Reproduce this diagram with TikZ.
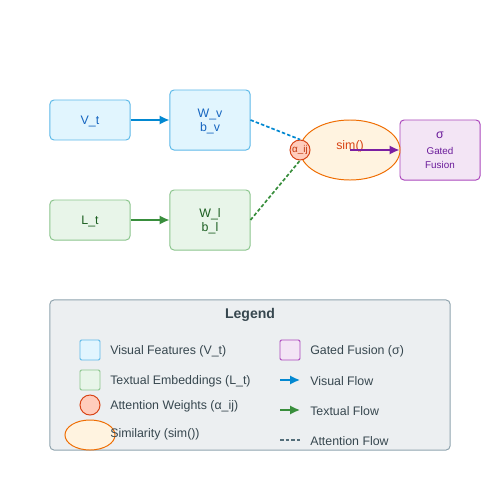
\documentclass[tikz,border=0pt]{standalone}
\usepackage{fontspec}
\setmainfont{Liberation Sans}
\usetikzlibrary{arrows.meta,shapes.geometric}
\definecolor{visfill}{HTML}{E1F5FE}
\definecolor{visline}{HTML}{5DB9E8}
\definecolor{vistext}{HTML}{1565C0}
\definecolor{visarrow}{HTML}{0288D1}
\definecolor{txtfill}{HTML}{E8F5E9}
\definecolor{txtline}{HTML}{8BC58D}
\definecolor{txttext}{HTML}{1B5E20}
\definecolor{txtarrow}{HTML}{388E3C}
\definecolor{simfill}{HTML}{FFF3E0}
\definecolor{simline}{HTML}{EF6C00}
\definecolor{simtext}{HTML}{D84315}
\definecolor{attfill}{HTML}{FFCCBC}
\definecolor{attline}{HTML}{D84315}
\definecolor{atttext}{HTML}{BF360C}
\definecolor{gatefill}{HTML}{F3E5F5}
\definecolor{gateline}{HTML}{AB47BC}
\definecolor{gatetext}{HTML}{6A1B9A}
\definecolor{gatearrow}{HTML}{7B1FA2}
\definecolor{legfill}{HTML}{ECEFF1}
\definecolor{legline}{HTML}{90A4AE}
\definecolor{legtext}{HTML}{37474F}
\definecolor{attflow}{HTML}{546E7A}
\begin{document}
\begin{tikzpicture}
  [x=0.025cm,y=-0.025cm,
   font=\fontsize{8.8}{10}\selectfont,
   box/.style={draw,rounded corners=0.1cm,line width=0.7pt,minimum width=2cm,align=center,inner sep=0pt,text depth=0pt},
   visbox/.style={box,fill=visfill,draw=visline,text=vistext},
   txtbox/.style={box,fill=txtfill,draw=txtline,text=txttext},
   gatebox/.style={box,fill=gatefill,draw=gateline,text=gatetext},
   swatch/.style={minimum width=0.5cm,minimum height=0.5cm,rounded corners=1pt},
   flow/.style={-{Latex[length=7pt,width=6.5pt]},line width=1.2pt},
   att/.style={dash pattern=on 2.5pt off 1.5pt,line width=1.2pt},
   key/.style={anchor=west,text=legtext,inner sep=0pt}]
  \useasboundingbox (0,0) rectangle (500,500);

  \node[visbox,minimum height=1cm] (Vt) at (90,120) {V\_t};
  \node[visbox,minimum height=1.5cm] (Wv) at (210,120) {W\_v\\b\_v};
  \node[txtbox,minimum height=1cm] (Lt) at (90,220) {L\_t};
  \node[txtbox,minimum height=1.5cm] (Wl) at (210,220) {W\_l\\b\_l};
  \node[gatebox,minimum height=1.5cm] (Gf) at (440,150)
       {σ\\[1.5pt]{\fontsize{7}{9.8}\selectfont Gated}\\{\fontsize{7}{9.8}\selectfont Fusion}};

  \node[ellipse,draw=simline,fill=simfill,line width=0.7pt,minimum width=2.5cm,minimum height=1.5cm,inner sep=0pt] (sim) at (350,150) {};
  \node[text=simtext] (simlbl) at (350,146) {sim()};
  \node[circle,draw=attline,fill=attfill,line width=0.7pt,minimum size=0.5cm,inner sep=0pt,text=atttext,font=\fontsize{7}{8}\selectfont] (alpha) at (300,150) {α\_ij};

  \draw[flow,visarrow] (Vt) -- (Wv);
  \draw[flow,txtarrow] (Lt) -- (Wl);
  \draw[att,visarrow] (Wv.east) -- (alpha.north);
  \draw[att,txtarrow] (Wl.east) -- (alpha.south);
  \draw[flow,gatearrow] (sim.center) -- (Gf.west);

  \node[draw=legline,fill=legfill,rounded corners=0.1cm,line width=0.7pt,minimum width=10cm,minimum height=3.75cm] (leg) at (250,375) {};
  \node[font=\fontsize{10}{12}\selectfont\bfseries,text=legtext] (legtitle) at (250,315) {Legend};

  \node[swatch,draw=visline,fill=visfill,line width=0.7pt] (kv) at (90,350) {};
  \node[key] (kvt) at (110,351) {Visual Features (V\_t)};
  \node[swatch,draw=txtline,fill=txtfill,line width=0.7pt] (kl) at (90,380) {};
  \node[key] (klt) at (110,381) {Textual Embeddings (L\_t)};
  \node[circle,draw=attline,fill=attfill,line width=0.7pt,minimum size=0.5cm,inner sep=0pt] (ka) at (90,405) {};
  \node[key] (kat) at (110,406) {Attention Weights (α\_ij)};
  \node[ellipse,draw=simline,fill=simfill,line width=0.7pt,minimum width=1.25cm,minimum height=0.75cm,inner sep=0pt] (ks) at (90,435) {};
  \node[key] (kst) at (110,434) {Similarity (sim())};

  \node[swatch,draw=gateline,fill=gatefill,line width=0.7pt] (kg) at (290,350) {};
  \node[key] (kgt) at (310,351) {Gated Fusion (σ)};
  \coordinate (kv0) at (280,380);
  \coordinate (kv1) at (300,380);
  \draw[flow,visarrow] (kv0) -- (kv1);
  \node[key] (kvf) at (310,381) {Visual Flow};
  \coordinate (kt0) at (280,410);
  \coordinate (kt1) at (300,410);
  \draw[flow,txtarrow] (kt0) -- (kt1);
  \node[key] (ktf) at (310,411) {Textual Flow};
  \coordinate (kd0) at (280,440);
  \coordinate (kd1) at (300,440);
  \draw[dash pattern=on 2.5pt off 1.5pt,line width=1pt,attflow] (kd0) -- (kd1);
  \node[key] (kdf) at (310,441) {Attention Flow};
\end{tikzpicture}
\end{document}
